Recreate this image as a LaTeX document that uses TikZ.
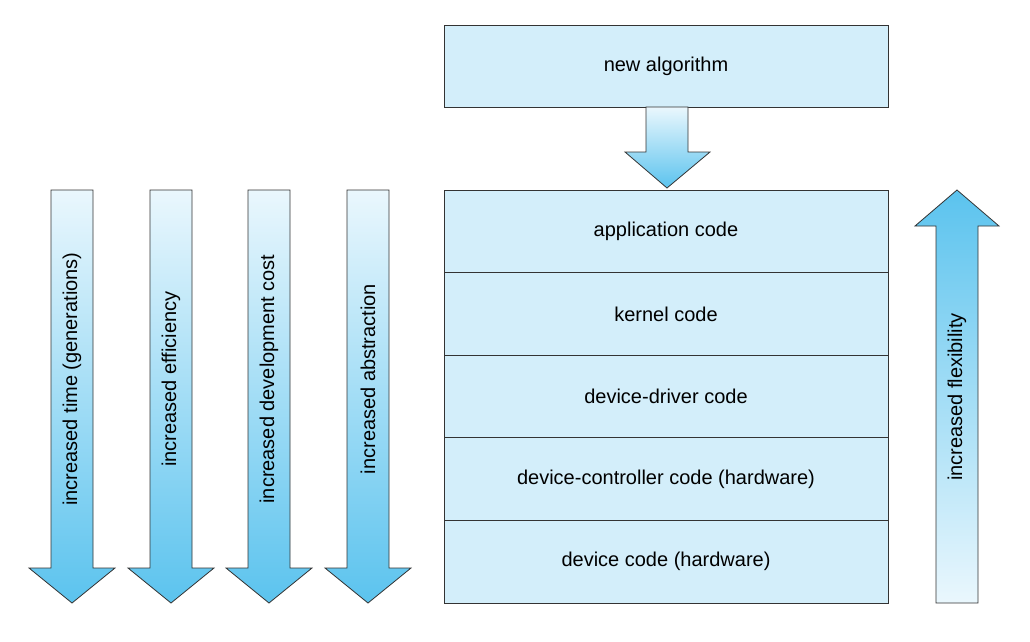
\documentclass[tikz,border=0pt]{standalone}
\usepackage{fontspec}
\setmainfont{Liberation Sans}
\begin{document}
\begin{tikzpicture}[x=1pt,y=-1pt,
  box/.style={draw=black!80,line width=0.8pt,fill=boxc,minimum width=444pt,minimum height=82.6pt,font=\fontsize{20}{24}\selectfont,inner sep=0pt},
  arr/.style={draw=black!80,line width=0.8pt,top color=light,bottom color=deep},
  lab/.style={font=\fontsize{20}{24}\selectfont,rotate=90,inner sep=0pt}]
\definecolor{boxc}{HTML}{D3EEFA}
\definecolor{light}{HTML}{EAF7FD}
\definecolor{deep}{HTML}{5BC3EE}
\useasboundingbox (0,0) rectangle (1030,641);
\node[box,minimum height=82pt] (alg) at (666,66) {new algorithm};
\node[box] (app) at (666,231.3) {application code};
\node[box] (ker) at (666,313.9) {kernel code};
\node[box] (drv) at (666,396.5) {device-driver code};
\node[box] (ctl) at (666,479.1) {device-controller code (hardware)};
\node[box] (dev) at (666,561.7) {device code (hardware)};
% down arrow
\path[arr] (646,107) -- (688,107) -- (688,152) -- (710,152) -- (667,188) -- (625,152) -- (646,152) -- cycle;
% left arrows
\foreach \c/\t/\n in {72/increased time (generations)/a1,171/increased efficiency/a2,269/increased development cost/a3,368/increased abstraction/a4}{
  \path[arr] (\c-21,190) -- (\c+21,190) -- (\c+21,568) -- (\c+43,568) -- (\c,603) -- (\c-43,568) -- (\c-21,568) -- cycle;
  \node[lab] (\n) at (\c,379) {\t};
}
% right arrow
\path[arr,top color=deep,bottom color=light] (936,603) -- (978,603) -- (978,226) -- (999,226) -- (957,190) -- (915,226) -- (936,226) -- cycle;
\node[lab] (flex) at (957,397) {increased flexibility};
\end{tikzpicture}
\end{document}
